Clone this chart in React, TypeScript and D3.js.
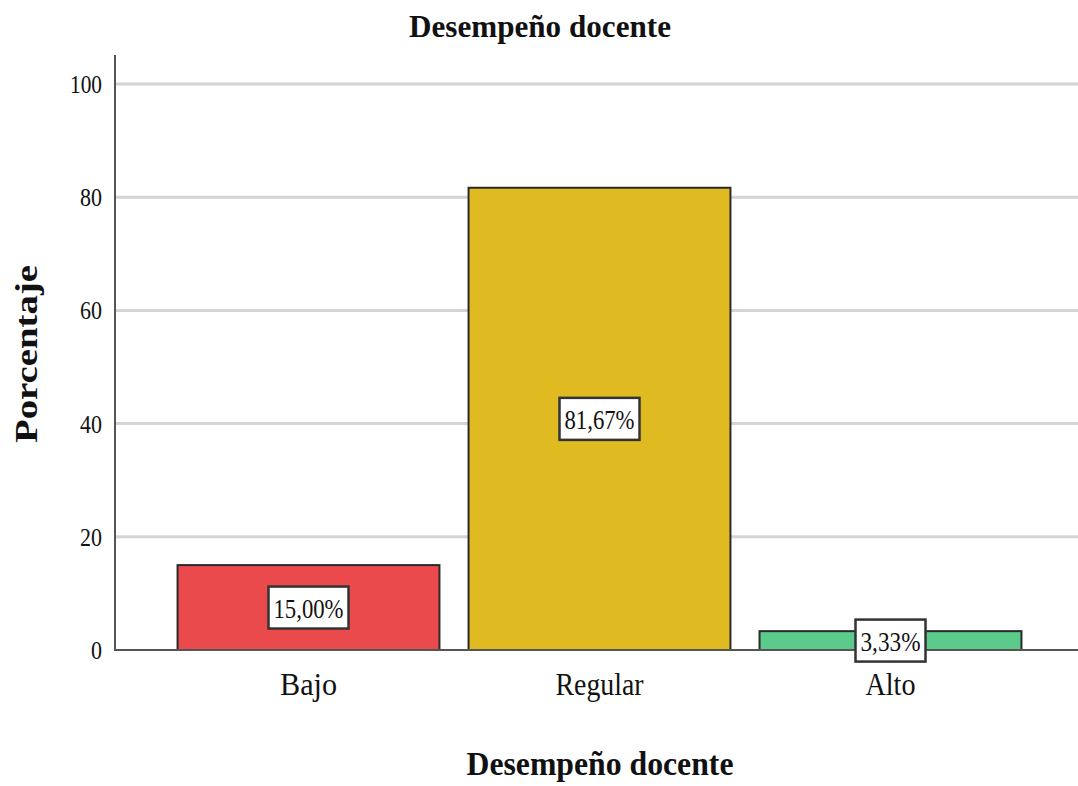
import React from "react";
import * as d3 from "d3";

const categories = ["Bajo", "Regular", "Alto"];
const percentages = [15.0, 81.67, 3.33];
const valueLabels = ["15,00%", "81,67%", "3,33%"];
const barColors = ["#ea4a4c", "#dfba20", "#5cca8a"];
const yTicks = [0, 20, 40, 60, 80, 100];

const W = 1078;
const H = 786;
const FONT = "'Liberation Serif', 'Times New Roman', serif";

function CText({ x, y, len, size, bold, anchor = "middle", rotate = 0, children }: any) {
  return (
    <text
      transform={`translate(${x},${y}) rotate(${rotate})`}
      textAnchor={anchor}
      fontFamily={FONT}
      fontSize={size}
      fontWeight={bold ? "bold" : "normal"}
      fill="#111"
      textLength={len}
      lengthAdjust="spacingAndGlyphs"
    >
      {children}
    </text>
  );
}

export default function App() {
  const y = d3.scaleLinear().domain([0, 100]).range([650, 84]);
  const x = d3
    .scaleBand<string>()
    .domain(categories)
    .range([163, 1036])
    .paddingInner(0.1)
    .paddingOuter(0.05);

  const labelW = (s: string) => (s.length >= 6 ? 80 : 70);

  return (
    <svg
      width={W}
      height={H}
      style={{ position: "absolute", left: 0, top: 0, background: "#fff" }}
    >
      <rect x={0} y={0} width={W} height={H} fill="#fff" />
      {/* gridlines */}
      {yTicks.slice(1).map((t) => (
        <line key={t} x1={116} x2={W} y1={y(t)} y2={y(t)} stroke="#d4d4d4" strokeWidth={3} />
      ))}
      {/* bars */}
      {categories.map((c, i) => (
        <rect
          key={c}
          x={x(c)!}
          y={y(percentages[i])}
          width={x.bandwidth()}
          height={y(0) - y(percentages[i])}
          fill={barColors[i]}
          stroke="#2a2a2a"
          strokeWidth={2}
        />
      ))}
      {/* axes */}
      <line x1={115} x2={115} y1={55} y2={651} stroke="#555" strokeWidth={2} />
      <line x1={114} x2={W} y1={650} y2={650} stroke="#555" strokeWidth={2} />
      {/* y ticks */}
      {yTicks.map((t) => (
        <CText key={t} x={102} y={y(t) + 9} size={26} anchor="end" len={t === 100 ? 32 : t === 0 ? 11 : 22}>
          {String(t)}
        </CText>
      ))}
      {/* value labels */}
      {categories.map((c, i) => {
        const cx = x(c)! + x.bandwidth() / 2;
        const cy = (y(percentages[i]) + y(0)) / 2;
        const w = labelW(valueLabels[i]);
        return (
          <g key={c}>
            <rect x={cx - w / 2} y={cy - 21} width={w} height={42} fill="#fff" stroke="#333" strokeWidth={2.5} />
            <CText x={cx} y={cy + 10} size={28} len={w - 10}>
              {valueLabels[i]}
            </CText>
          </g>
        );
      })}
      {/* category labels */}
      {categories.map((c, i) => (
        <CText key={c} x={x(c)! + x.bandwidth() / 2} y={695} size={32} len={[57, 88, 50][i]}>
          {c}
        </CText>
      ))}
      {/* titles */}
      <CText x={540} y={37} size={32} bold len={262}>
        Desempeño docente
      </CText>
      <CText x={600} y={775} size={34} bold len={267}>
        Desempeño docente
      </CText>
      <CText x={37} y={354} size={32} bold len={178} rotate={-90}>
        Porcentaje
      </CText>
    </svg>
  );
}
